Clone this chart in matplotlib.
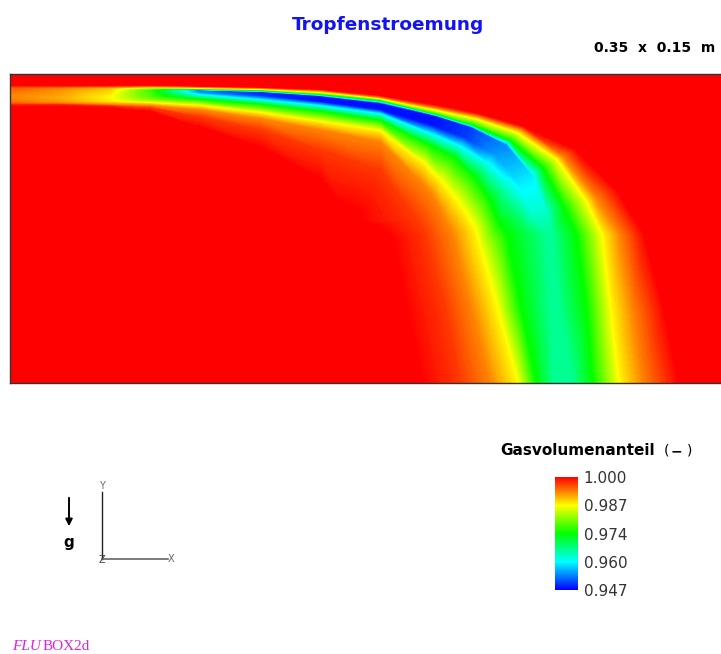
import numpy as np
import matplotlib
matplotlib.use('Agg')
import matplotlib.pyplot as plt
import matplotlib.tri as mtri
from matplotlib.colors import LinearSegmentedColormap, Normalize
from matplotlib.cm import ScalarMappable

# Gas volume fraction read off the picture along 16 cross-sections of the
# droplet jet (inlet -> bend -> floor). Every row crosses the same lines:
# outer red edge, outer 0.993, outer 0.987, outer 0.974, core (outer side),
# core (inner side), inner cyan, inner 0.974, inner 0.987, inner 0.993,
# inner 0.997, inner red edge.  Positions in mm, box is 350 x 150 mm.
section_x = [
    [0.0] * 12,
    [24.3] * 12,
    [48.5] * 12,
    [68.0] * 12,
    [92.2] * 12,
    [121.4] * 12,
    [150.5] * 12,
    [179.6] * 11 + [160.2],
    [208.3, 207.8, 207.8, 207.3, 206.8, 205.3, 204.4, 202.9, 200.5, 198.5, 194.2, 169.9],
    [227.7, 227.2, 226.2, 224.3, 223.8, 220.9, 218.4, 215.1, 208.7, 204.8, 197.6, 168.9],
    [249.5, 248.1, 246.6, 243.2, 240.8, 235.4, 231.6, 224.8, 215.1, 208.7, 199.5, 177.7],
    [274.8, 268.4, 266.0, 259.2, 253.4, 246.1, 240.3, 232.0, 220.9, 211.7, 201.9, 181.6],
    [295.1, 284.5, 280.1, 269.4, 260.7, 253.4, 247.1, 236.9, 225.7, 215.1, 202.4, 185.4],
    [308.3, 296.1, 287.9, 275.7, 263.6, 259.7, 250.0, 240.3, 228.2, 218.0, 205.8, 188.4],
    [318.0, 302.4, 292.2, 280.6, 267.0, 262.1, 254.9, 247.6, 236.4, 224.3, 211.2, 191.7],
    [325.2, 307.3, 296.1, 283.5, 273.3, 263.6, 259.2, 254.9, 246.1, 233.0, 218.4, 199.0],
]
section_y = [
    [144.7, 144.2, 143.7, 143.2, 139.8, 138.8, 137.4, 136.4, 135.9, 135.4, 135.0, 134.0],
    [144.7, 144.2, 143.7, 143.2, 139.3, 138.3, 137.4, 136.4, 135.9, 135.4, 135.0, 134.0],
    [144.7, 144.2, 143.7, 143.2, 139.3, 138.3, 137.4, 136.4, 135.9, 135.0, 134.5, 133.5],
    [144.7, 144.2, 143.7, 143.2, 142.2, 140.8, 138.8, 137.4, 135.9, 134.5, 133.5, 131.6],
    [144.2, 143.7, 143.2, 142.7, 142.2, 140.8, 139.3, 137.4, 134.5, 132.5, 129.1, 123.8],
    [143.7, 143.2, 142.7, 142.2, 141.3, 139.3, 137.4, 135.0, 131.1, 128.2, 122.8, 114.1],
    [142.7, 142.0, 141.3, 140.3, 139.3, 136.4, 134.5, 131.6, 126.7, 122.8, 113.1, 98.5],
    [139.8, 138.8, 138.3, 137.4, 135.9, 132.5, 130.6, 127.2, 122.3, 117.0, 103.4, 86.4],
    [135.0, 133.5, 132.5, 130.6, 129.6, 124.8, 120.9, 115.5, 106.8, 98.5, 83.5, 81.6],
    [131.1, 129.6, 128.6, 125.7, 124.3, 118.9, 115.0, 109.2, 98.1, 91.3, 78.6, 78.6],
    [124.8, 123.3, 121.8, 118.0, 116.0, 110.7, 106.3, 100.0, 90.3, 84.0, 75.2, 76.2],
    [113.6, 110.2, 108.7, 104.9, 101.5, 97.6, 94.2, 89.3, 82.5, 77.7, 71.8, 73.3],
    [93.7, 90.3, 88.8, 85.9, 84.0, 81.6, 80.1, 77.2, 74.3, 71.4, 68.0, 69.4],
    [72.3] * 8 + [64.6, 58.7, 54.9, 52.4],
    [35.4] * 12,
    [0.0] * 12,
]
section_gas = [
    [1.000, 0.998, 0.996, 0.995, 0.993, 0.993, 0.9935, 0.994, 0.995, 0.996, 0.998, 1.000],
    [1.000, 0.998, 0.995, 0.993, 0.991, 0.991, 0.9915, 0.992, 0.993, 0.995, 0.998, 1.000],
    [1.000, 0.997, 0.993, 0.990, 0.987, 0.987, 0.9875, 0.988, 0.990, 0.993, 0.997, 1.000],
    [1.000, 0.995, 0.990, 0.982, 0.976, 0.977, 0.978, 0.980, 0.987, 0.993, 0.997, 1.000],
    [1.000, 0.993, 0.987, 0.974, 0.953, 0.955, 0.963, 0.974, 0.987, 0.993, 0.997, 1.000],
    [1.000, 0.993, 0.987, 0.974, 0.949, 0.950, 0.960, 0.974, 0.987, 0.993, 0.997, 1.000],
    [1.000, 0.993, 0.987, 0.974, 0.948, 0.948, 0.960, 0.974, 0.987, 0.993, 0.997, 1.000],
    [1.000, 0.993, 0.987, 0.974, 0.948, 0.948, 0.960, 0.974, 0.987, 0.993, 0.997, 1.000],
    [1.000, 0.993, 0.987, 0.974, 0.948, 0.948, 0.960, 0.974, 0.987, 0.993, 0.997, 1.000],
    [1.000, 0.993, 0.987, 0.974, 0.950, 0.950, 0.960, 0.974, 0.987, 0.993, 0.997, 1.000],
    [1.000, 0.993, 0.987, 0.974, 0.954, 0.955, 0.961, 0.974, 0.987, 0.993, 0.997, 1.000],
    [1.000, 0.993, 0.987, 0.974, 0.959, 0.959, 0.964, 0.974, 0.987, 0.993, 0.997, 1.000],
    [1.000, 0.993, 0.987, 0.974, 0.963, 0.963, 0.968, 0.974, 0.987, 0.993, 0.997, 1.000],
    [1.000, 0.993, 0.987, 0.974, 0.966, 0.966, 0.970, 0.974, 0.987, 0.993, 0.997, 1.000],
    [1.000, 0.993, 0.987, 0.974, 0.966, 0.966, 0.970, 0.974, 0.987, 0.993, 0.997, 1.000],
    [1.000, 0.993, 0.987, 0.974, 0.966, 0.966, 0.970, 0.974, 0.987, 0.993, 0.997, 1.000],
]

gas_min = 0.947
gas_max = 1.000
cbar_labels = ['0.947', '0.960', '0.974', '0.987', '1.000']

W, H = 721, 654
fig = plt.figure(figsize=(W / 100, H / 100), dpi=100)

cmap = LinearSegmentedColormap.from_list(
    'gas', ['#0000ff', '#00ffff', '#00ff00', '#ffff00', '#ff0000'])

# triangulate the section grid, two triangles per cell
X = np.array(section_x)
Y = np.array(section_y)
Z = np.array(section_gas)
nr, nc = Z.shape
idx = np.arange(nr * nc).reshape(nr, nc)
triangles = []
for i in range(nr - 1):
    for j in range(nc - 1):
        a, b, c, d = idx[i, j], idx[i + 1, j], idx[i + 1, j + 1], idx[i, j + 1]
        triangles.append([a, b, c])
        triangles.append([a, c, d])
tri = mtri.Triangulation(X.ravel(), Y.ravel(), triangles)

# main field
ax = fig.add_axes([10 / W, 1 - 383 / H, 721 / W, 309 / H])
ax.set_facecolor(cmap(1.0))
levels = np.linspace(gas_min, gas_max, 200)
ax.tricontourf(tri, Z.ravel(), levels=levels, cmap=cmap, extend='both')
ax.set_xlim(0, 350)
ax.set_ylim(0, 150)
ax.set_xticks([])
ax.set_yticks([])
for side in ['top', 'left', 'bottom']:
    ax.spines[side].set_color('#333333')
    ax.spines[side].set_linewidth(1.0)
ax.spines['right'].set_visible(False)

# colour bar
cax = fig.add_axes([555 / W, 1 - 590 / H, 23 / W, 113 / H])
sm = ScalarMappable(norm=Normalize(gas_min, gas_max), cmap=cmap)
cb = fig.colorbar(sm, cax=cax, ticks=np.linspace(gas_min, gas_max, 5))
cb.set_ticklabels(cbar_labels)
cb.outline.set_visible(False)
cax.tick_params(length=0, pad=4, labelsize=11, labelcolor='#333333')

# texts, in pixel positions of the figure
def ftext(px, py, s, **kw):
    fig.text(px / W, 1 - py / H, s, **kw)

ftext(387.5, 30, 'Tropfenstroemung', ha='center', va='baseline',
      fontsize=13.3, fontweight='bold', color='#1414f0')
ftext(715, 52, '0.35  x  0.15  m', ha='right', va='baseline',
      fontsize=10, fontweight='bold', color='black')
ftext(500, 455, 'Gasvolumenanteil', ha='left', va='baseline',
      fontsize=11, fontweight='bold', color='black')
ftext(664, 455, '(', ha='left', va='baseline', fontsize=10, color='black')
ftext(671, 455, '\u2212', ha='left', va='baseline', fontsize=10,
      fontweight='bold', color='black')
ftext(687, 455, ')', ha='left', va='baseline', fontsize=10, color='black')

# overlay for the coordinate triad and the gravity arrow
ov = fig.add_axes([0, 0, 1, 1], facecolor='none')
ov.set_xlim(0, W)
ov.set_ylim(H, 0)
ov.axis('off')
ov.plot([102, 102], [492, 559], color='#222222', lw=1)
ov.plot([102, 168], [559, 559], color='#666666', lw=1.2)
ov.text(102, 491, 'Y', ha='center', va='bottom', fontsize=7, color='#666666')
ov.text(102, 560, 'Z', ha='center', va='center', fontsize=7, color='#444444')
ov.text(168, 559, 'X', ha='left', va='center', fontsize=7, color='#666666')
ov.annotate('', xy=(69, 529), xytext=(69, 495),
            arrowprops=dict(arrowstyle='-|>', color='black', lw=1.4,
                            mutation_scale=10))
ov.text(69, 543, 'g', ha='center', va='center', fontsize=11,
        fontweight='bold', color='black')

ftext(12, 650, 'FLU', ha='left', va='baseline', fontsize=11,
      family='Liberation Serif', style='italic', color='#dd22dd')
ftext(43, 650, 'BOX2d', ha='left', va='baseline', fontsize=11,
      family='Liberation Serif', color='#dd22dd')

plt.savefig('out.png', dpi=100)
